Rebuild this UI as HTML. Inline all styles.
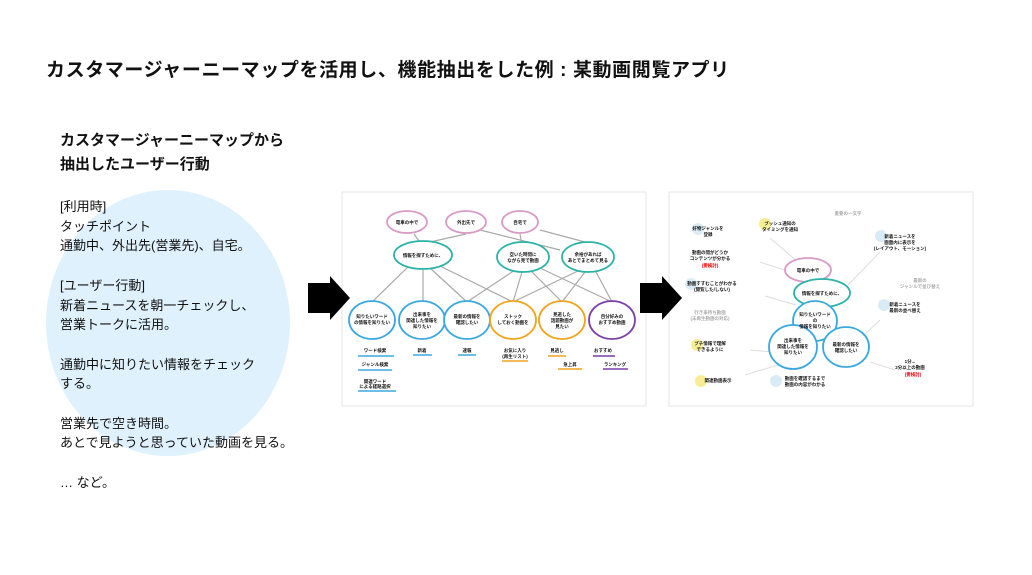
<!DOCTYPE html>
<html><head><meta charset="utf-8">
<style>
body{margin:0;width:1032px;height:575px;background:#fff;overflow:hidden;position:relative;font-family:"Liberation Sans","Noto Sans CJK JP",sans-serif;color:#111}
.t{position:absolute;white-space:nowrap}
</style></head><body>
<div class="t" style="left:46px;top:55px;font-size:19px;font-weight:bold;letter-spacing:0.6px">カスタマージャーニーマップを活用し、機能抽出をした例 : 某動画閲覧アプリ</div>
<div style="position:absolute;left:46px;top:190px;width:244px;height:266px;border-radius:50%;background:#dff1fc"></div>
<div class="t" style="left:60px;top:129px;font-size:15px;font-weight:bold;line-height:24px">カスタマージャーニーマップから<br>抽出したユーザー行動</div>
<div class="t" style="left:60px;top:197px;font-size:13px;line-height:19.7px">[利用時]<br>タッチポイント<br>通勤中、外出先(営業先)、自宅。<br><br>[ユーザー行動]<br>新着ニュースを朝一チェックし、<br>営業トークに活用。<br><br>通勤中に知りたい情報をチェック<br>する。<br><br>営業先で空き時間。<br>あとで見ようと思っていた動画を見る。<br><br>… など。</div>
<svg style="position:absolute;left:0;top:0" width="1032" height="575" font-family="Liberation Sans,Noto Sans CJK JP,sans-serif">
<rect x="342" y="192" width="304" height="214" fill="#fff" stroke="#e4e4e4"/>
<rect x="669" y="192" width="304" height="214" fill="#fff" stroke="#e4e4e4"/>
<polygon points="308,283 330,283 330,276 350,298 330,320 330,313 308,313" fill="#000"/>
<polygon points="640,283 662,283 662,276 682,298 662,320 662,313 640,313" fill="#000"/>
<g stroke="#aaa" stroke-width="1.2">
<line x1="414" y1="234" x2="422" y2="245"/><line x1="466" y1="234" x2="430" y2="242"/><line x1="480" y1="230" x2="560" y2="250"/><line x1="520" y1="234" x2="522" y2="245"/><line x1="540" y1="230" x2="600" y2="246"/>
<line x1="410" y1="265" x2="372" y2="302"/><line x1="423" y1="270" x2="423" y2="302"/><line x1="430" y1="268" x2="467" y2="302"/><line x1="440" y1="266" x2="513" y2="302"/>
<line x1="515" y1="270" x2="467" y2="302"/><line x1="522" y1="272" x2="513" y2="302"/><line x1="530" y1="270" x2="562" y2="302"/><line x1="540" y1="268" x2="612" y2="302"/>
<line x1="580" y1="270" x2="513" y2="302"/><line x1="585" y1="272" x2="562" y2="302"/><line x1="595" y1="270" x2="612" y2="302"/>
</g>
<g fill="#fff" stroke-width="1.8">
<ellipse cx="407" cy="222" rx="20" ry="11" stroke="#d99ac6"/><ellipse cx="466" cy="222" rx="20" ry="11" stroke="#d99ac6"/><ellipse cx="520" cy="222" rx="18" ry="11" stroke="#d99ac6"/>
<ellipse cx="423" cy="255" rx="29" ry="14" stroke="#2bb3a8"/><ellipse cx="523" cy="257" rx="26" ry="15" stroke="#2bb3a8"/><ellipse cx="588" cy="257" rx="26" ry="15" stroke="#2bb3a8"/>
<ellipse cx="372" cy="320" rx="23" ry="19" stroke="#3aa8e0"/><ellipse cx="422" cy="320" rx="23" ry="19" stroke="#3aa8e0"/><ellipse cx="467" cy="320" rx="23" ry="19" stroke="#3aa8e0"/>
<ellipse cx="513" cy="320" rx="23" ry="19" stroke="#f3a41d"/><ellipse cx="562" cy="320" rx="23" ry="19" stroke="#f3a41d"/><ellipse cx="612" cy="320" rx="23" ry="19" stroke="#7b3fa8"/>
</g>
<g font-size="4.5" font-weight="bold" text-anchor="middle" fill="#111">
<text x="407" y="224">電車の中で</text><text x="466" y="224">外出先で</text><text x="520" y="224">自宅で</text>
<text x="423" y="257">情報を探すために、</text><text x="523" y="256">空いた時間に</text><text x="523" y="262">ながら見で動画</text><text x="588" y="256">余裕があれば</text><text x="588" y="262">あとでまとめて見る</text>
<text x="372" y="318">知りたいワード</text><text x="372" y="324">の情報を知りたい</text><text x="422" y="316">出来事を</text><text x="422" y="322">関連した情報を</text><text x="422" y="328">知りたい</text>
<text x="467" y="318">最新の情報を</text><text x="467" y="324">確認したい</text><text x="513" y="318">ストック</text><text x="513" y="324">しておく動画を</text>
<text x="562" y="316">見逃した</text><text x="562" y="322">話題動画が</text><text x="562" y="328">見たい</text><text x="612" y="318">自分好みの</text><text x="612" y="324">おすすめ動画</text>
<text x="375" y="352">ワード検索</text><text x="375" y="366">ジャンル検索</text><text x="375" y="383">関連ワード</text><text x="375" y="388">による経路選択</text>
<text x="422" y="352">新着</text><text x="467" y="352">速報</text><text x="515" y="352">お気に入り</text><text x="515" y="358">(再生リスト)</text>
<text x="557" y="352">見逃し</text><text x="570" y="366">急上昇</text><text x="603" y="352">おすすめ</text><text x="615" y="366">ランキング</text>
</g>
<g stroke-width="1.5"><line x1="358" y1="356" x2="394" y2="356" stroke="#3aa8e0"/><line x1="358" y1="370" x2="392" y2="370" stroke="#3aa8e0"/><line x1="358" y1="391" x2="396" y2="391" stroke="#3aa8e0"/><line x1="413" y1="355" x2="432" y2="355" stroke="#3aa8e0"/><line x1="458" y1="355" x2="476" y2="355" stroke="#3aa8e0"/>
<line x1="502" y1="361" x2="528" y2="361" stroke="#f3a41d"/><line x1="548" y1="356" x2="566" y2="356" stroke="#f3a41d"/><line x1="558" y1="369" x2="582" y2="369" stroke="#f3a41d"/><line x1="593" y1="356" x2="615" y2="356" stroke="#7b3fa8"/><line x1="603" y1="369" x2="628" y2="369" stroke="#7b3fa8"/></g>
<g stroke="#ddd" stroke-width="1"><line x1="770" y1="238" x2="798" y2="262"/><line x1="760" y1="262" x2="790" y2="272"/><line x1="765" y1="296" x2="796" y2="305"/><line x1="880" y1="252" x2="848" y2="285"/><line x1="880" y1="320" x2="865" y2="334"/><line x1="870" y1="362" x2="895" y2="370"/><line x1="750" y1="350" x2="772" y2="352"/><line x1="745" y1="375" x2="778" y2="365"/></g>
<g fill-opacity="0.8"><circle cx="698" cy="229" r="6" fill="#cfe7f3"/><circle cx="765" cy="224" r="6" fill="#f4ea7a"/><circle cx="881" cy="236" r="6" fill="#cfe7f3"/><circle cx="691" cy="284" r="6" fill="#cfe7f3"/><circle cx="884" cy="305" r="6" fill="#cfe7f3"/><circle cx="697" cy="345" r="6" fill="#f4ea7a"/><circle cx="701" cy="381" r="6" fill="#f4ea7a"/><circle cx="776" cy="381" r="6" fill="#cfe7f3"/></g>
<g fill="#fff" stroke-width="1.8">
<ellipse cx="808" cy="270" rx="23" ry="12" stroke="#d99ac6"/><ellipse cx="822" cy="293" rx="28" ry="14" stroke="#2bb3a8"/>
<ellipse cx="815" cy="321" rx="22" ry="20" stroke="#3aa8e0"/><ellipse cx="793" cy="347" rx="24" ry="22" stroke="#3aa8e0"/><ellipse cx="846" cy="347" rx="23" ry="20" stroke="#3aa8e0"/>
</g>
<g font-size="4.5" font-weight="bold" text-anchor="middle" fill="#111">
<text x="808" y="272">電車の中で</text><text x="822" y="295">情報を探すために、</text><text x="815" y="316">知りたいワード</text><text x="815" y="322">の</text><text x="815" y="328">情報を知りたい</text>
<text x="793" y="342">出来事を</text><text x="793" y="348">関連した情報を</text><text x="793" y="354">知りたい</text><text x="846" y="346">最新の情報を</text><text x="846" y="352">確認したい</text>
<text x="708" y="230">好物ジャンルを</text><text x="708" y="236">登録</text><text x="780" y="225">プッシュ通知の</text><text x="780" y="231">タイミングを通知</text>
<text x="710" y="254">動画の間がどうか</text><text x="710" y="260">コンテンツが分かる</text><text x="710" y="267" fill="#e00">(要検討)</text>
<text x="712" y="285">動画すすむことがわかる</text><text x="712" y="291">(閲覧した/しない)</text>
<text x="710" y="314" fill="#aaa">行き来待ち動画</text><text x="710" y="320" fill="#aaa">(未再生動画の対応)</text>
<text x="710" y="345">プチ情報で理解</text><text x="710" y="351">できるように</text><text x="718" y="382">関連動画表示</text>
<text x="805" y="380">動画を確認するまで</text><text x="805" y="386">動画の内容がわかる</text>
<text x="848" y="215" fill="#aaa">重要の一文字</text><text x="900" y="238">新着ニュースを</text><text x="900" y="244">画面内に表示を</text><text x="900" y="250">(レイアウト、モーション)</text>
<text x="920" y="282" fill="#aaa">最新の</text><text x="920" y="288" fill="#aaa">ジャンルで並び替え</text>
<text x="905" y="306">新着ニュースを</text><text x="905" y="312">最新の並べ替え</text>
<text x="910" y="363">1分...</text><text x="910" y="369">2分以上の動画</text><text x="913" y="376" fill="#e00">(要検討)</text>
</g>
</svg>
</body></html>
